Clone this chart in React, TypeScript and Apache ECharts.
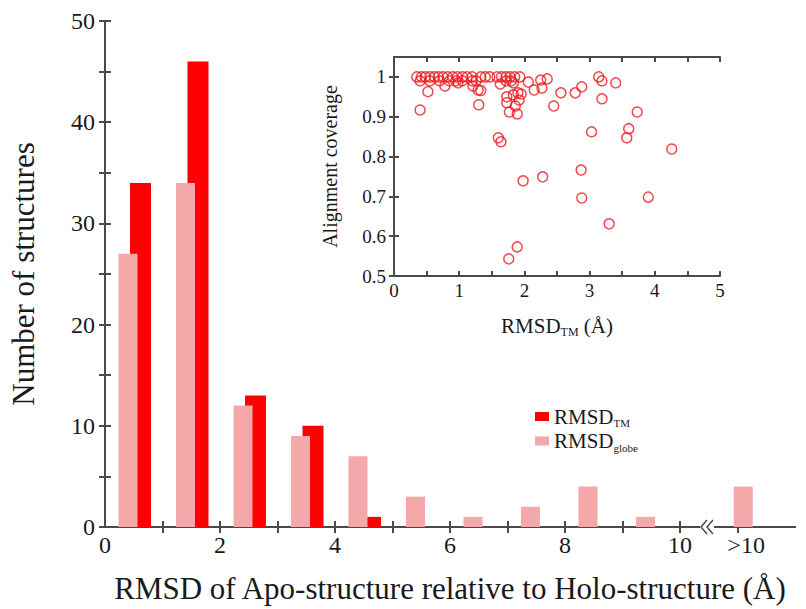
import React, { useEffect, useRef } from "react";
import * as echarts from "echarts";

// ---- main histogram data ----
const binCenters = [0.5, 1.5, 2.5, 3.5, 4.5, 5.5, 6.5, 7.5, 8.5, 9.5, 11.2];
const tmValues = [34, 46, 13, 10, 1, 0, 0, 0, 0, 0, 0];
const globeValues = [27, 34, 12, 9, 7, 3, 1, 2, 4, 1, 4];
const xLabelValues = [0, 2, 4, 6, 8, 10, 11.15];
const xTickValues = [0, 1, 2, 3, 4, 5, 6, 7, 8, 9, 10];
const yTickValues = [0, 5, 10, 15, 20, 25, 30, 35, 40, 45, 50];
const yLabelValues = [0, 10, 20, 30, 40, 50];

// ---- inset scatter data ----
const covX = [
  0.35, 0.42, 0.48, 0.55, 0.62, 0.68, 0.75, 0.82, 0.9, 0.97, 1.05, 1.12, 1.2, 1.33, 1.4, 1.47, 1.58, 1.65, 1.72, 1.78, 1.85, 1.93,
  0.4, 0.55, 0.7, 0.85, 0.95, 1.05, 1.2, 1.26, 1.72, 1.8,
  0.98, 1.83, 2.06, 3.4, 1.63,
  0.52, 0.4, 0.78, 1.21, 1.29, 1.33, 1.3, 1.6, 1.64, 1.73, 1.73, 1.77, 1.89, 1.83, 1.86, 1.92, 1.95, 1.9,
  2.15, 2.27, 2.25, 2.35, 2.45, 2.56, 2.78, 2.88, 3.14, 3.19, 3.19, 3.03, 3.73, 3.6, 3.57, 4.26,
  1.98, 2.28, 2.87, 2.88, 3.9, 3.3, 1.89, 1.76,
];
const covY = [
  1, 1, 1, 1, 1, 1, 1, 1, 1, 1, 1, 1, 1, 1, 1, 1, 1, 1, 1, 1, 1, 1,
  0.99, 0.99, 0.99, 0.99, 0.99, 0.99, 0.99, 0.99, 0.99, 0.99,
  0.985, 0.985, 0.987, 0.985, 0.982,
  0.963, 0.917, 0.977, 0.977, 0.967, 0.966, 0.93, 0.847, 0.837, 0.95, 0.935, 0.912, 0.907, 0.955, 0.927, 0.942, 0.957, 0.96,
  0.967, 0.972, 0.992, 0.995, 0.927, 0.96, 0.96, 0.975, 1.0, 0.99, 0.945, 0.862, 0.912, 0.87, 0.847, 0.819,
  0.739, 0.749, 0.766, 0.696, 0.698, 0.631, 0.573, 0.543,
];
const insetXTicks = [0, 0.5, 1, 1.5, 2, 2.5, 3, 3.5, 4, 4.5, 5];
const insetXLabels = [0, 1, 2, 3, 4, 5];
const insetYTicks = [0.5, 0.6, 0.7, 0.8, 0.9, 1];

const FONT = "Liberation Serif, Times New Roman, serif";
const AXIS_COLOR = "#4a4a4a";
const TEXT_COLOR = "#1a1a1a";
const RED = "#fe0000";
const PINK = "#f5a8a9";
const SCATTER = "#ee1c22";

export default function App() {
  const ref = useRef<HTMLDivElement>(null);
  useEffect(() => {
    document.body.style.margin = "0";
    if (!ref.current) return;
    const chart = echarts.init(ref.current, undefined, { renderer: "svg" });
    const axisLine = { show: true, lineStyle: { color: AXIS_COLOR, width: 2 } };
    const tickStyle = { lineStyle: { color: AXIS_COLOR, width: 2 } };
    const option: any = {
      animation: false,
      backgroundColor: "#ffffff",
      textStyle: { fontFamily: FONT, color: TEXT_COLOR },
      grid: [
        { left: 102, top: 21, width: 693, height: 507 },
        { left: 394, top: 57, width: 326, height: 219 },
      ],
      legend: {
        orient: "vertical",
        left: 530,
        top: 401,
        itemWidth: 14,
        itemHeight: 9,
        itemGap: 2,
        icon: "rect",
        data: ["RMSD_TM", "RMSD_globe"],
        formatter: (name: string) =>
          name === "RMSD_TM" ? "{a|RMSD}{b|TM}" : "{a|RMSD}{b|globe}",
        textStyle: {
          fontFamily: FONT,
          rich: {
            a: { fontSize: 21, fontFamily: FONT, color: TEXT_COLOR, lineHeight: 24 },
            b: { fontSize: 11, fontFamily: FONT, color: TEXT_COLOR, verticalAlign: "bottom", lineHeight: 8 },
          },
        },
      },
      xAxis: [
        {
          gridIndex: 0,
          type: "value",
          min: 0,
          max: 12,
          position: "bottom",
          axisLine,
          axisTick: { show: true, inside: true, length: 6, customValues: xTickValues, ...tickStyle },
          axisLabel: {
            customValues: xLabelValues,
            fontSize: 24,
            fontFamily: FONT,
            color: TEXT_COLOR,
            margin: 6,
            formatter: (v: number) => (v > 10 ? ">10" : String(v)),
          },
          splitLine: { show: false },
          name: "RMSD of Apo-structure relative to Holo-structure (Å)",
          nameLocation: "middle",
          nameGap: 46,
          nameTextStyle: { fontSize: 31, fontFamily: FONT, color: TEXT_COLOR },
        },
        {
          gridIndex: 0,
          type: "value",
          min: 0,
          max: 12,
          position: "top",
          axisLine,
          axisTick: { show: true, inside: true, length: 6, customValues: [1, 2, 3, 4, 5, 6, 7, 8, 9, 10, 11], ...tickStyle },
          axisLabel: { show: false },
          splitLine: { show: false },
        },
        {
          gridIndex: 1,
          type: "value",
          min: 0,
          max: 5,
          position: "bottom",
          axisLine,
          axisTick: { show: true, inside: true, length: 5, customValues: insetXTicks, ...tickStyle },
          axisLabel: { customValues: insetXLabels, fontSize: 19, fontFamily: FONT, color: TEXT_COLOR, margin: 5 },
          splitLine: { show: false },
          name: "{a|RMSD}{b|TM}{a| (Å)}",
          nameLocation: "middle",
          nameGap: 38,
          nameTextStyle: {
            rich: {
              a: { fontSize: 21, fontFamily: FONT, color: TEXT_COLOR, lineHeight: 24 },
              b: { fontSize: 12, fontFamily: FONT, color: TEXT_COLOR, verticalAlign: "bottom", lineHeight: 8 },
            },
          },
        },
        {
          gridIndex: 1,
          type: "value",
          min: 0,
          max: 5,
          position: "top",
          axisLine,
          axisTick: { show: true, inside: true, length: 5, customValues: insetXTicks, ...tickStyle },
          axisLabel: { show: false },
          splitLine: { show: false },
        },
      ],
      yAxis: [
        {
          gridIndex: 0,
          type: "value",
          min: 0,
          max: 50,
          position: "left",
          axisLine,
          axisTick: { show: true, inside: true, length: 6, customValues: yTickValues, ...tickStyle },
          axisLabel: { customValues: yLabelValues, fontSize: 24, fontFamily: FONT, color: TEXT_COLOR, margin: 10 },
          splitLine: { show: false },
          name: "Number of structures",
          nameLocation: "middle",
          nameGap: 66,
          nameTextStyle: { fontSize: 31, fontFamily: FONT, color: TEXT_COLOR },
        },
        {
          gridIndex: 0,
          type: "value",
          min: 0,
          max: 50,
          position: "right",
          axisLine,
          axisTick: { show: true, inside: true, length: 6, customValues: yTickValues, ...tickStyle },
          axisLabel: { show: false },
          splitLine: { show: false },
        },
        {
          gridIndex: 1,
          type: "value",
          min: 0.5,
          max: 1.05,
          position: "left",
          axisLine,
          axisTick: { show: true, inside: true, length: 5, customValues: insetYTicks, ...tickStyle },
          axisLabel: {
            customValues: insetYTicks,
            fontSize: 19,
            fontFamily: FONT,
            color: TEXT_COLOR,
            margin: 8,
            formatter: (v: number) => (Math.abs(v - 1) < 1e-9 ? "1" : v.toFixed(1)),
          },
          splitLine: { show: false },
          name: "Alignment coverage",
          nameLocation: "middle",
          nameGap: 54,
          nameTextStyle: { fontSize: 20, fontFamily: FONT, color: TEXT_COLOR },
        },
        {
          gridIndex: 1,
          type: "value",
          min: 0.5,
          max: 1.05,
          position: "right",
          axisLine,
          axisTick: { show: true, inside: true, length: 5, customValues: insetYTicks, ...tickStyle },
          axisLabel: { show: false },
          splitLine: { show: false },
        },
      ],
      series: [
        {
          name: "RMSD_TM",
          type: "bar",
          xAxisIndex: 0,
          yAxisIndex: 0,
          barWidth: 21,
          itemStyle: { color: RED },
          data: binCenters.map((c, i) => [c + 0.1, tmValues[i]]).filter((d) => d[1] > 0),
          z: 2,
        },
        {
          name: "RMSD_globe",
          type: "bar",
          xAxisIndex: 0,
          yAxisIndex: 0,
          barWidth: 19,
          barGap: "-100%",
          itemStyle: { color: PINK },
          data: binCenters.map((c, i) => [c - 0.1, globeValues[i]]).filter((d) => d[1] > 0),
          z: 3,
        },
        {
          name: "coverage",
          type: "scatter",
          xAxisIndex: 2,
          yAxisIndex: 2,
          symbol: "circle",
          symbolSize: 10,
          itemStyle: { color: "rgba(0,0,0,0)", borderColor: SCATTER, borderWidth: 1.5 },
          data: covX.map((x, i) => [x, covY[i]]),
          z: 4,
        },
      ],
      graphic: [
        { type: "rect", shape: { x: 700, y: 524, width: 14, height: 8 }, style: { fill: "#ffffff" }, z: 100 },
        {
          type: "polyline",
          shape: { points: [[707, 520], [701, 527], [707, 534]] },
          style: { stroke: AXIS_COLOR, lineWidth: 1.5, fill: "none" },
          z: 101,
        },
        {
          type: "polyline",
          shape: { points: [[713, 520], [707, 527], [713, 534]] },
          style: { stroke: AXIS_COLOR, lineWidth: 1.5, fill: "none" },
          z: 101,
        },
      ],
    };
    chart.setOption(option);
    return () => chart.dispose();
  }, []);
  return <div ref={ref} style={{ width: 806, height: 609 }} />;
}
